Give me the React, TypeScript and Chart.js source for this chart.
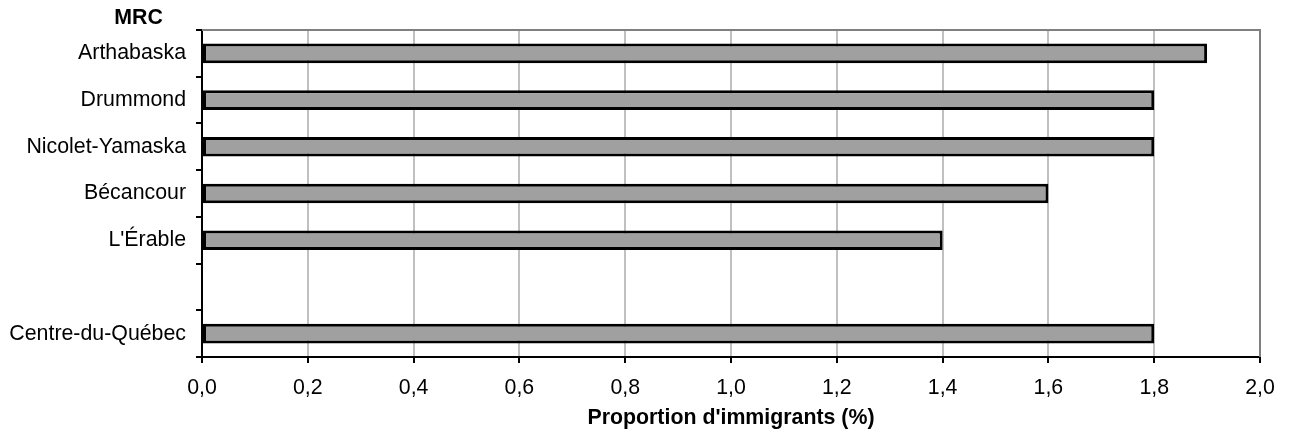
import React, { useEffect, useRef } from "react";
import { Chart, registerables } from "chart.js";

Chart.register(...registerables);

const categories: string[] = [
  "Arthabaska",
  "Drummond",
  "Nicolet-Yamaska",
  "Bécancour",
  "L'Érable",
  "",
  "Centre-du-Québec",
];
const values: (number | null)[] = [1.9, 1.8, 1.8, 1.6, 1.4, null, 1.8];
const xTickLabels: string[] = ["0,0", "0,2", "0,4", "0,6", "0,8", "1,0", "1,2", "1,4", "1,6", "1,8", "2,0"];
const yAxisHeader = "MRC";
const xAxisTitle = "Proportion d'immigrants (%)";

const FONT = "'Liberation Sans', Arial, sans-serif";
const FS = 21.33;

export default function App() {
  const ref = useRef<HTMLCanvasElement | null>(null);

  useEffect(() => {
    if (!ref.current) return;
    const framePlugin = {
      id: "frame",
      afterDraw(chart: any) {
        const { ctx, chartArea } = chart;
        ctx.save();
        ctx.strokeStyle = "#808080";
        ctx.lineWidth = 2;
        ctx.beginPath();
        ctx.moveTo(chartArea.left, chartArea.top);
        ctx.lineTo(chartArea.right, chartArea.top);
        ctx.lineTo(chartArea.right, chartArea.bottom);
        ctx.stroke();
        ctx.fillStyle = "#000";
        ctx.font = `bold ${FS}px ${FONT}`;
        ctx.textAlign = "center";
        ctx.textBaseline = "middle";
        ctx.fillText(yAxisHeader, 138.5, 18);
        ctx.restore();
      },
    };

    const chart = new Chart(ref.current, {
      type: "bar",
      data: {
        labels: categories,
        datasets: [
          {
            data: values,
            backgroundColor: "#a0a0a0",
            borderColor: "#000",
            borderWidth: 3,
            borderSkipped: false,
            categoryPercentage: 1,
            barPercentage: 0.42,
          },
        ],
      },
      options: {
        indexAxis: "y",
        animation: false,
        responsive: true,
        maintainAspectRatio: false,
        layout: { padding: { top: 30, right: 31, left: 0, bottom: 0 } },
        plugins: {
          legend: { display: false },
          tooltip: { enabled: false },
          title: { display: false },
        },
        scales: {
          x: {
            type: "linear",
            min: 0,
            max: 2,
            ticks: {
              stepSize: 0.2,
              color: "#000",
              font: { family: FONT, size: FS },
              padding: 12,
              maxRotation: 0,
              callback: (_v: any, i: number) => xTickLabels[i],
            },
            grid: {
              color: "#c0c0c0",
              lineWidth: 2,
              tickColor: "#000",
              tickLength: 6,
              drawTicks: true,
            },
            border: { color: "#000", width: 2 },
            title: {
              display: true,
              text: xAxisTitle,
              color: "#000",
              font: { family: FONT, size: FS, weight: "bold" },
              padding: { top: 0, bottom: 12 },
            },
            afterFit: (scale: any) => {
              scale.height = 86;
            },
          },
          y: {
            type: "category",
            offset: true,
            ticks: {
              color: "#000",
              font: { family: FONT, size: FS },
              padding: 10,
              autoSkip: false,
            },
            grid: {
              offset: true,
              drawOnChartArea: false,
              drawTicks: true,
              tickLength: 6,
              color: "#000",
              tickColor: "#000",
              lineWidth: 2,
            },
            border: { color: "#000", width: 2 },
            afterFit: (scale: any) => {
              scale.width = 202;
            },
          },
        },
      },
      plugins: [framePlugin],
    } as any);
    return () => chart.destroy();
  }, []);

  return (
    <div style={{ position: "absolute", left: 0, top: 0, width: 1291, height: 443, background: "#fff" }}>
      <canvas ref={ref} />
    </div>
  );
}
